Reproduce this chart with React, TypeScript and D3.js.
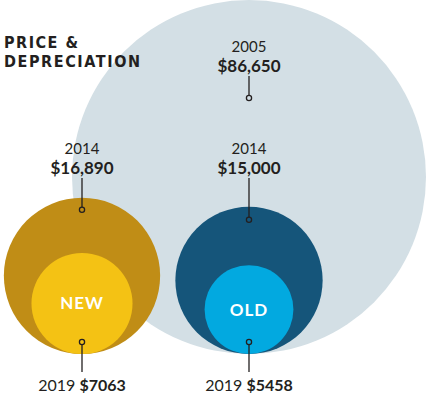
import React from "react";
import * as d3 from "d3";

// values
const circleIds = ["all2005", "new2014", "old2014", "new2019", "old2019"];
const circleGroups = ["old", "new", "old", "new", "old"];
const circleYears = ["2005", "2014", "2014", "2019", "2019"];
const circleValues = [86650, 16890, 15000, 7063, 5458];
const valueLabels = ["$86,650", "$16,890", "$15,000", "$7063", "$5458"];
const groups = ["new", "old"];
const groupLabels = ["NEW", "OLD"];

const W = 429;
const H = 396;
const baseY = 354;
const ink = "#231f20";
const fills: Record<string, string> = {
  all2005: "#d3dfe5",
  new2014: "#c08d16",
  old2014: "#15557a",
  new2019: "#f4c214",
  old2019: "#02a9e0",
};
const numFont = "Lato, 'Open Sans', sans-serif";

export default function App() {
  const r = d3.scaleSqrt().domain([0, d3.max(circleValues)!]).range([0, 177]);
  const x = d3.scalePoint<string>().domain(groups).range([82, 249]);

  const circles = circleIds.map((id, i) => ({
    id,
    group: circleGroups[i],
    year: circleYears[i],
    label: valueLabels[i],
    cx: x(circleGroups[i])!,
    rad: r(circleValues[i]),
  }));

  // top labels: the 2005 circle and the two 2014 circles (value baseline)
  const topRows = [
    { idx: 0, valueY: 72, dotInset: 98 },
    { idx: 1, valueY: 174, dotInset: 12 },
    { idx: 2, valueY: 174, dotInset: 13 },
  ];

  return (
    <svg
      width={W}
      height={H}
      style={{ position: "fixed", left: 0, top: 0, background: "#fff" }}
    >
      {circles.map((c) => (
        <circle
          key={c.id}
          cx={c.cx}
          cy={baseY - c.rad}
          r={c.rad}
          fill={fills[c.id]}
        />
      ))}

      {groups.map((g, i) => {
        const c = circles.find((d) => d.group === g && d.year === "2019")!;
        return (
          <text
            key={g}
            x={c.cx}
            y={baseY - c.rad + 6}
            textAnchor="middle"
            fill="#fff"
            fontFamily={numFont}
            fontWeight={700}
            fontSize={17}
            letterSpacing={1}
          >
            {groupLabels[i]}
          </text>
        );
      })}

      {topRows.map(({ idx, valueY, dotInset }) => {
        const c = circles[idx];
        const dotY = baseY - 2 * c.rad + dotInset;
        return (
          <g key={c.id} fontFamily={numFont} fill={ink} textAnchor="middle">
            <text x={c.cx} y={valueY - 20.5} fontSize={15} fontWeight={400}>
              {c.year}
            </text>
            <text x={c.cx} y={valueY} fontSize={17} fontWeight={700}>
              {c.label}
            </text>
            <line
              x1={c.cx}
              x2={c.cx}
              y1={valueY + 4}
              y2={dotY - 2.5}
              stroke={ink}
              strokeWidth={1.3}
            />
            <circle cx={c.cx} cy={dotY} r={2.6} fill="none" stroke={ink} strokeWidth={1.3} />
          </g>
        );
      })}

      {circles
        .filter((c) => c.year === "2019")
        .map((c) => {
          const dotY = baseY - 12;
          return (
            <g key={c.id} fontFamily={numFont} fill={ink}>
              <circle cx={c.cx} cy={dotY} r={2.6} fill="none" stroke={ink} strokeWidth={1.3} />
              <line
                x1={c.cx}
                x2={c.cx}
                y1={dotY + 2.5}
                y2={372}
                stroke={ink}
                strokeWidth={1.3}
              />
              <text x={c.cx} y={391} textAnchor="middle" fontSize={16}>
                <tspan fontWeight={400}>{c.year} </tspan>
                <tspan fontWeight={700}>{c.label}</tspan>
              </text>
            </g>
          );
        })}

      <g
        fill={ink}
        fontFamily="'DejaVu Sans Condensed', 'DejaVu Sans', sans-serif"
        fontWeight={700}
        fontSize={16}
      >
        <text x={4} y={48} textLength={74} lengthAdjust="spacing">
          PRICE &amp;
        </text>
        <text x={4} y={67} textLength={136} lengthAdjust="spacing">
          DEPRECIATION
        </text>
      </g>
    </svg>
  );
}
